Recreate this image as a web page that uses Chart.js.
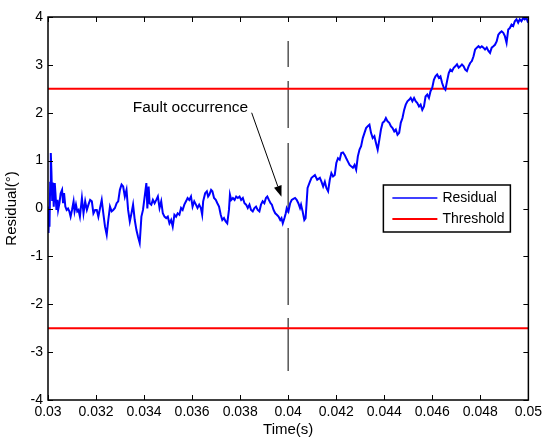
<!DOCTYPE html>
<html>
<head>
<meta charset="utf-8">
<script src="https://cdn.jsdelivr.net/npm/chart.js@4.4.0/dist/chart.umd.min.js"></script>
<style>
  html, body { margin: 0; padding: 0; background: #fff; }
</style>
</head>
<body>
<canvas id="chart" width="546" height="439"></canvas>
<script>
// Data
const timeMs = [
  30.021, 30.050, 30.062, 30.091, 30.116, 30.144, 30.173, 30.198, 30.239, 30.281,
  30.310, 30.351, 30.392, 30.421, 30.475, 30.528, 30.586, 30.627, 30.669, 30.722,
  30.776, 30.834, 30.888, 30.941, 30.999, 31.065, 31.106, 31.164, 31.218, 31.271,
  31.329,
  31.412, 31.478, 31.548, 31.618, 31.684, 31.754, 31.825, 31.891, 31.961, 32.031,
  32.097, 32.167, 32.237, 32.303, 32.374, 32.444, 32.510, 32.580, 32.650, 32.716,
  32.786, 32.857, 32.923, 32.993, 33.063, 33.129, 33.199, 33.269, 33.335, 33.406,
  33.476, 33.542, 33.612, 33.682, 33.748, 33.818, 33.889, 33.955, 34.025, 34.095,
  34.136, 34.190, 34.231, 34.301, 34.367, 34.438, 34.508, 34.574, 34.644, 34.714,
  34.780, 34.850, 34.921, 34.987, 35.057, 35.127, 35.193, 35.263, 35.333, 35.399,
  35.470, 35.540, 35.606, 35.676, 35.746, 35.812, 35.882, 35.953, 36.019, 36.089,
  36.159, 36.225, 36.295,
  36.365, 36.419, 36.460, 36.543, 36.613, 36.667, 36.720, 36.791, 36.844, 36.914,
  36.985, 37.051, 37.121, 37.191, 37.257, 37.327, 37.397, 37.463, 37.534, 37.575,
  37.629, 37.699, 37.769, 37.835, 37.905, 37.975, 38.041, 38.112, 38.182, 38.248,
  38.318, 38.388, 38.454, 38.524, 38.595, 38.661, 38.731, 38.801, 38.867, 38.937,
  39.007, 39.073, 39.131, 39.197, 39.267, 39.321, 39.391, 39.461, 39.527, 39.598,
  39.668, 39.721, 39.775, 39.845, 39.899, 39.940, 40.010, 40.081, 40.147, 40.217,
  40.287, 40.353, 40.423, 40.493, 40.535, 40.601, 40.671, 40.725, 40.766, 40.807,
  40.906, 40.972, 41.113, 41.208,
  41.319, 41.385, 41.455, 41.525, 41.591, 41.662, 41.732, 41.798, 41.868, 41.938,
  42.004, 42.074, 42.145, 42.211, 42.281, 42.351, 42.417, 42.487, 42.557, 42.623,
  42.694, 42.764, 42.830, 42.900, 42.970, 43.036, 43.106, 43.177, 43.243, 43.313,
  43.383, 43.449, 43.519, 43.589, 43.655, 43.726, 43.796, 43.862, 43.932, 44.002,
  44.068, 44.138, 44.209, 44.275, 44.345, 44.415, 44.481, 44.551, 44.621, 44.687,
  44.758, 44.828, 44.894, 44.964, 45.034, 45.100, 45.170, 45.241, 45.307, 45.377,
  45.447, 45.513, 45.583, 45.653, 45.719, 45.790, 45.860, 45.926, 45.996, 46.066,
  46.132, 46.202, 46.273, 46.339, 46.409, 46.479, 46.545, 46.615, 46.685, 46.751,
  46.822, 46.892, 46.958, 47.028, 47.098, 47.164, 47.234, 47.305, 47.371, 47.441,
  47.511, 47.577, 47.647, 47.717, 47.783, 47.854, 47.924, 47.990, 48.060, 48.130,
  48.196, 48.266, 48.337, 48.403, 48.473, 48.543, 48.609, 48.679, 48.749, 48.815,
  48.886, 48.956, 49.022, 49.092, 49.162, 49.228, 49.298, 49.369, 49.435, 49.505,
  49.575, 49.641, 49.711, 49.781, 49.847, 49.918, 49.988
];

const residual = [
  -0.51, 0.04, -0.38, 0.54, 1.16, 0.75, 0.18, 0.54, 0.04, 0.53,
  0.32, -0.03, 0.18, -0.03, 0.11, 0.32, 0.39, 0.11, 0.32, 0.04,
  -0.03, 0.00, -0.06, -0.17, -0.03, 0.15, -0.06, 0.08, -0.06, -0.03,
  -0.17,
  0.22, -0.10, 0.15, -0.03, 0.08, 0.18, 0.15, -0.10, -0.03, -0.03,
  -0.17, 0.01, 0.18, -0.10, -0.38, -0.55, -0.24, 0.04, -0.06, -0.03,
  0.01, 0.11, 0.15, 0.39, 0.50, 0.46, 0.25, 0.39, -0.03, -0.27,
  -0.10, 0.08, -0.24, -0.45, -0.59, -0.72, -0.17, -0.03, 0.25, 0.53,
  0.00, 0.46, 0.11, 0.08, 0.18, 0.11, 0.18, 0.25, 0.01, 0.15,
  -0.10, -0.17, -0.20, -0.17, -0.31, -0.24, -0.38, -0.13, -0.17, -0.10,
  -0.13, 0.01, -0.03, 0.08, 0.15, 0.22, 0.18, 0.25, 0.04, 0.15,
  0.08, 0.01, 0.08,
  0.01, -0.13, 0.15, 0.32, 0.36, 0.25, 0.29, 0.39, 0.36, 0.22,
  0.18, 0.11, 0.04, -0.13, -0.24, -0.20, -0.27, -0.31, -0.03, 0.29,
  0.18, 0.22, 0.18, 0.25, 0.22, 0.25, 0.18, 0.22, 0.11, 0.08,
  0.01, 0.08, -0.03, -0.06, 0.01, 0.04, -0.03, -0.06, 0.08, 0.15,
  0.11, 0.22, 0.25, 0.18, 0.11, 0.08, -0.03, -0.10, -0.13, -0.17,
  -0.24, -0.20, -0.31, -0.20, -0.10, 0.01, -0.06, 0.11, 0.18, 0.20,
  0.22, 0.18, 0.11, 0.01, 0.08, -0.06, -0.24, -0.20, 0.11, 0.43,
  0.56, 0.64, 0.70, 0.60,
  0.64, 0.56, 0.46, 0.56, 0.43, 0.36, 0.60, 0.74, 0.67, 0.70,
  0.95, 1.05, 1.02, 1.16, 1.17, 1.12, 1.05, 0.98, 0.91, 0.88,
  0.85, 0.91, 0.81, 1.09, 1.23, 1.30, 1.47, 1.58, 1.68, 1.72,
  1.75, 1.58, 1.47, 1.51, 1.37, 1.23, 1.44, 1.65, 1.79, 1.82,
  1.89, 1.82, 1.79, 1.72, 1.68, 1.61, 1.65, 1.54, 1.58, 1.79,
  1.89, 2.06, 2.17, 2.24, 2.27, 2.31, 2.24, 2.31, 2.24, 2.20,
  2.13, 2.17, 2.06, 2.13, 2.34, 2.38, 2.31, 2.45, 2.52, 2.69,
  2.76, 2.80, 2.73, 2.76, 2.62, 2.52, 2.48, 2.66, 2.83, 2.90,
  2.87, 2.94, 2.97, 3.01, 2.94, 2.97, 3.01, 2.97, 2.90, 2.87,
  2.97, 3.04, 3.08, 3.18, 3.32, 3.36, 3.39, 3.36, 3.39, 3.36,
  3.32, 3.36, 3.29, 3.25, 3.36, 3.39, 3.42, 3.49, 3.63, 3.67,
  3.70, 3.67, 3.60, 3.46, 3.74, 3.77, 3.84, 3.81, 3.91, 3.95,
  3.88, 3.95, 3.91, 3.98, 3.95, 3.98, 3.88
];

const thresholds = [2.5, -2.5];
const faultTime = 0.04;
const faultSpan = [3.5, -3.5];
const xRange = [0.03, 0.05];
const xTicks = [0.03, 0.032, 0.034, 0.036, 0.038, 0.04, 0.042, 0.044, 0.046, 0.048, 0.05];
const yTicks = [-4, -3, -2, -1, 0, 1, 2, 3, 4];

// annotation: text anchor and arrow (data units)
const noteText = 'Fault occurrence';
const noteAt = [0.03353, 2.11];
const arrowFrom = [0.03848, 2.0];
const arrowTo = [0.03972, 0.245];

const FONT = 'Arial, Helvetica, "Liberation Sans", sans-serif';

const residualPoints = timeMs.map((t, i) => ({ x: t / 1000, y: residual[i] }));

// inward ticks, box, arrow, text and legend (MATLAB look)
const matlabDecor = {
  id: 'matlabDecor',
  afterDatasetsDraw(chart) {
    const ctx = chart.ctx;
    const a = chart.chartArea;
    const xs = chart.scales.x;
    const ys = chart.scales.y;
    ctx.save();

    // ticks
    ctx.strokeStyle = '#000';
    ctx.lineWidth = 1;
    ctx.beginPath();
    xTicks.forEach(v => {
      const px = Math.round(xs.getPixelForValue(v)) + 0.5;
      ctx.moveTo(px, a.bottom); ctx.lineTo(px, a.bottom - 5);
      ctx.moveTo(px, a.top); ctx.lineTo(px, a.top + 5);
    });
    yTicks.forEach(v => {
      const py = Math.round(ys.getPixelForValue(v)) + 0.5;
      ctx.moveTo(a.left, py); ctx.lineTo(a.left + 5, py);
      ctx.moveTo(a.right, py); ctx.lineTo(a.right - 5, py);
    });
    ctx.stroke();

    // box
    ctx.lineWidth = 1.5;
    ctx.strokeRect(a.left, a.top, a.right - a.left, a.bottom - a.top);

    // arrow
    const x1 = xs.getPixelForValue(arrowFrom[0]), y1 = ys.getPixelForValue(arrowFrom[1]);
    const x2 = xs.getPixelForValue(arrowTo[0]), y2 = ys.getPixelForValue(arrowTo[1]);
    const ang = Math.atan2(y2 - y1, x2 - x1);
    const hl = 11, hw = 4;
    ctx.lineWidth = 1;
    ctx.beginPath();
    ctx.moveTo(x1, y1);
    ctx.lineTo(x2 - hl * Math.cos(ang), y2 - hl * Math.sin(ang));
    ctx.stroke();
    ctx.fillStyle = '#000';
    ctx.beginPath();
    ctx.moveTo(x2, y2);
    ctx.lineTo(x2 - hl * Math.cos(ang) + hw * Math.sin(ang), y2 - hl * Math.sin(ang) - hw * Math.cos(ang));
    ctx.lineTo(x2 - hl * Math.cos(ang) - hw * Math.sin(ang), y2 - hl * Math.sin(ang) + hw * Math.cos(ang));
    ctx.closePath();
    ctx.fill();

    // annotation text
    ctx.font = '15.5px ' + FONT;
    ctx.textAlign = 'left';
    ctx.textBaseline = 'middle';
    ctx.fillText(noteText, xs.getPixelForValue(noteAt[0]), ys.getPixelForValue(noteAt[1]));

    // legend box
    const lw = 127, lh = 47;
    const lx = a.right - 18 - lw, ly = 185;
    ctx.fillStyle = '#fff';
    ctx.fillRect(lx, ly, lw, lh);
    ctx.lineWidth = 1.5;
    ctx.strokeStyle = '#000';
    ctx.strokeRect(lx, ly, lw, lh);
    const items = [['Residual', '#0000ff', 1.5], ['Threshold', '#ff0000', 2]];
    ctx.font = '14px ' + FONT;
    items.forEach((it, i) => {
      const yy = ly + 13 + i * 21;
      ctx.strokeStyle = it[1];
      ctx.lineWidth = it[2];
      ctx.beginPath();
      ctx.moveTo(lx + 9, yy); ctx.lineTo(lx + 54, yy);
      ctx.stroke();
      ctx.fillStyle = '#000';
      ctx.fillText(it[0], lx + 59, yy);
    });
    ctx.restore();
  }
};

new Chart(document.getElementById('chart'), {
  type: 'line',
  data: {
    datasets: [
      {
        label: 'Residual',
        data: residualPoints,
        borderColor: '#0000ff',
        borderWidth: 2,
        pointRadius: 0,
        tension: 0,
        order: 0
      },
      {
        label: 'Threshold',
        data: xRange.map(x => ({ x, y: thresholds[0] })),
        borderColor: '#ff0000',
        borderWidth: 2,
        pointRadius: 0,
        order: 1
      },
      {
        label: 'Threshold low',
        data: xRange.map(x => ({ x, y: thresholds[1] })),
        borderColor: '#ff0000',
        borderWidth: 2,
        pointRadius: 0,
        order: 1
      },
      {
        label: 'Fault',
        data: faultSpan.map(y => ({ x: faultTime, y })),
        borderColor: '#555555',
        borderWidth: 1.5,
        borderDash: [26, 14, 47, 15, 70, 15, 77, 13, 53],
        pointRadius: 0,
        order: 2
      }
    ]
  },
  options: {
    responsive: false,
    animation: false,
    layout: { padding: { top: 17, right: 14, left: 0, bottom: 0 } },
    plugins: {
      legend: { display: false },
      tooltip: { enabled: false }
    },
    scales: {
      x: {
        type: 'linear',
        min: xRange[0],
        max: xRange[1],
        afterBuildTicks: s => { s.ticks = xTicks.map(v => ({ value: v })); },
        afterFit: s => { s.height = 39; },
        grid: { display: false, drawTicks: false },
        border: { display: false },
        ticks: {
          color: '#000',
          font: { family: FONT, size: 14 },
          padding: 4,
          maxRotation: 0,
          autoSkip: false,
          callback: v => String(Number(v.toFixed(3)))
        },
        title: {
          display: true,
          text: 'Time(s)',
          color: '#000',
          font: { family: FONT, size: 15 },
          padding: { top: 0, bottom: 0 }
        }
      },
      y: {
        min: -4,
        max: 4,
        afterBuildTicks: s => { s.ticks = yTicks.map(v => ({ value: v })); },
        afterFit: s => { s.width = 48; },
        grid: { display: false, drawTicks: false },
        border: { display: false },
        ticks: {
          color: '#000',
          font: { family: FONT, size: 14 },
          padding: 5
        },
        title: {
          display: true,
          text: 'Residual(°)',
          color: '#000',
          font: { family: FONT, size: 15 },
          padding: { top: 3, bottom: 0 }
        }
      }
    }
  },
  plugins: [matlabDecor]
});
</script>
</body>
</html>
